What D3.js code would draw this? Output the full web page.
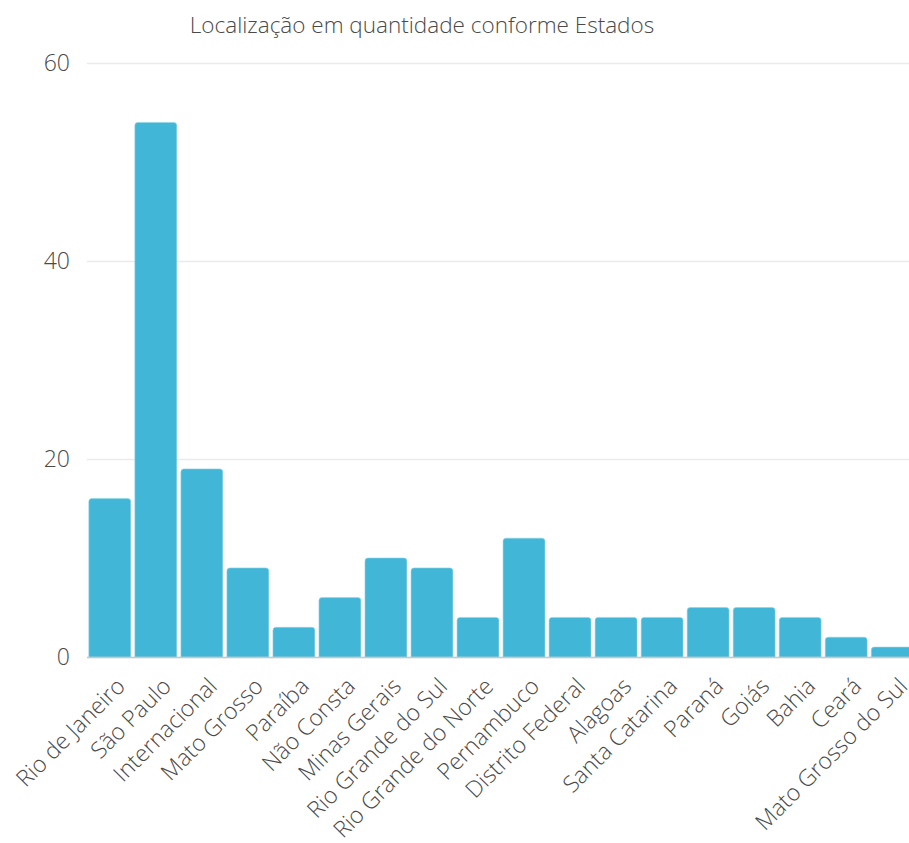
<!DOCTYPE html>
<html>
<head>
<meta charset="utf-8">
<script src="https://cdn.jsdelivr.net/npm/d3@7"></script>
<style>
  html, body { margin: 0; padding: 0; background: #fff; }
  svg { display: block; font-family: "Open Sans", sans-serif; font-weight: 300; }
</style>
</head>
<body>
<svg id="chart" width="909" height="843"></svg>
<script>
const categories = ["Rio de Janeiro", "São Paulo", "Internacional", "Mato Grosso", "Paraíba", "Não Consta",
  "Minas Gerais", "Rio Grande do Sul", "Rio Grande do Norte", "Pernambuco", "Distrito Federal", "Alagoas",
  "Santa Catarina", "Paraná", "Goiás", "Bahia", "Ceará", "Mato Grosso do Sul"];
const values = [16, 54, 19, 9, 3, 6, 10, 9, 4, 12, 4, 4, 4, 5, 5, 4, 2, 1];
const yTicks = [0, 20, 40, 60];
const title = "Localização em quantidade conforme Estados";

const svg = d3.select("#chart");
const plotLeft = 87, plotRight = 915, plotTop = 63, plotBottom = 657;
const textColor = "#4a4a4a";

const x = d3.scaleBand().domain(categories).range([plotLeft, plotRight]).paddingInner(0.09).paddingOuter(0.04);
const y = d3.scaleLinear().domain([0, 60]).range([plotBottom, plotTop]);

// gridlines + y labels
const yAxis = svg.append("g").attr("transform", `translate(${plotLeft},0)`)
  .call(d3.axisLeft(y).tickValues(yTicks).tickSize(-(909 - plotLeft)).tickPadding(17));
yAxis.select(".domain").remove();
yAxis.selectAll(".tick line").attr("stroke", "#ebebeb").attr("stroke-width", 1.5);
yAxis.selectAll(".tick text").attr("fill", textColor).attr("font-size", 23)
  .attr("font-family", "Open Sans").attr("font-weight", 300);

// bars with slightly rounded top corners
function barPath(x0, w, yTop, yBase, r) {
  r = Math.min(r, (yBase - yTop) / 2);
  return `M${x0},${yBase}V${yTop + r}Q${x0},${yTop} ${x0 + r},${yTop}H${x0 + w - r}Q${x0 + w},${yTop} ${x0 + w},${yTop + r}V${yBase}Z`;
}
svg.append("g").selectAll("path").data(values).join("path")
  .attr("d", (d, i) => barPath(x(categories[i]), x.bandwidth(), y(d), y(0), 3))
  .attr("fill", "#41b6d6")
  .attr("stroke", "#8fd3e6").attr("stroke-width", 0.6);

// baseline
svg.append("line").attr("x1", plotLeft).attr("x2", 909).attr("y1", y(0) + 0.5).attr("y2", y(0) + 0.5)
  .attr("stroke", "#c8c8c8").attr("stroke-width", 1.5);

// x labels
const xAxis = svg.append("g").attr("transform", `translate(0,${plotBottom})`)
  .call(d3.axisBottom(x).tickSize(0).tickPadding(0));
xAxis.select(".domain").remove();
xAxis.selectAll(".tick text")
  .attr("font-size", 23).attr("fill", textColor)
  .attr("font-family", "Open Sans").attr("font-weight", 300)
  .attr("text-anchor", "end")
  .attr("dy", "0.35em")
  .attr("transform", "translate(11,25) rotate(-45)");

// title
svg.append("text").attr("x", 422).attr("y", 33).attr("text-anchor", "middle")
  .attr("font-size", 22.5).attr("fill", textColor).text(title);
</script>
</body>
</html>
